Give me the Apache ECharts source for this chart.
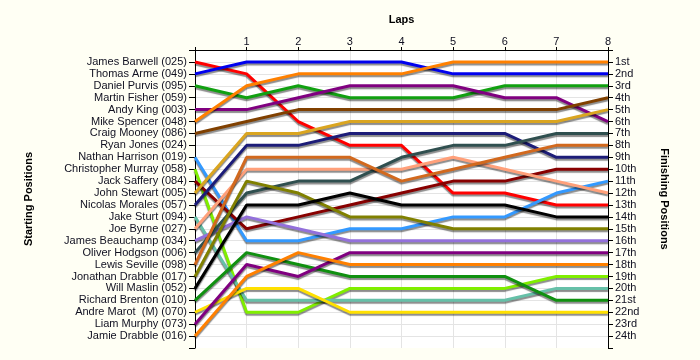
<!DOCTYPE html>
<html>
<head>
<meta charset="utf-8">
<script src="https://cdn.jsdelivr.net/npm/echarts@6/dist/echarts.min.js"></script>
<style>
html,body{margin:0;padding:0;background:#fffff4;}
#chart{width:700px;height:360px;}
</style>
</head>
<body>
<div id="chart"></div>
<script>
// Laps (x axis) and labels
const laps = [0, 1, 2, 3, 4, 5, 6, 7, 8];
const lapLabels = ['', '1', '2', '3', '4', '5', '6', '7', '8'];

// Starting grid names (left axis tick labels, positions 1..24)
const startingNames = [
  'James Barwell (025)', 'Thomas Arme (049)', 'Daniel Purvis (095)', 'Martin Fisher (059)',
  'Andy King (003)', 'Mike Spencer (048)', 'Craig Mooney (086)', 'Ryan Jones (024)',
  'Nathan Harrison (019)', 'Christopher Murray (058)', 'Jack Saffery (084)', 'John Stewart (005)',
  'Nicolas Morales (057)', 'Jake Sturt (094)', 'Joe Byrne (027)', 'James Beauchamp (034)',
  'Oliver Hodgson (006)', 'Lewis Seville (098)', 'Jonathan Drabble (017)', 'Will Maslin (052)',
  'Richard Brenton (010)', 'Andre Marot  (M) (070)', 'Liam Murphy (073)', 'Jamie Drabble (016)'
];

// Finishing positions (right axis tick labels)
const finishingLabels = [
  '1st', '2nd', '3rd', '4th', '5th', '6th', '7th', '8th', '9th', '10th', '11th', '12th',
  '13th', '14th', '15th', '16th', '17th', '18th', '19th', '20th', '21st', '22nd', '23rd', '24th'
];

// Position per lap (lap 0..8) for each driver
const posBarwell   = [1, 2, 6, 8, 8, 12, 12, 13, 13];
const posArme      = [2, 1, 1, 1, 1, 2, 2, 2, 2];
const posPurvis    = [3, 4, 3, 4, 4, 4, 3, 3, 3];
const posKing      = [5, 5, 4, 3, 3, 3, 4, 4, 6];
const posSpencer   = [6, 3, 2, 2, 2, 1, 1, 1, 1];
const posMooney    = [7, 6, 5, 5, 5, 5, 5, 5, 4];
const posHarrison  = [9, 16, 16, 15, 15, 14, 14, 12, 11];
const posMurray    = [10, 22, 22, 20, 20, 20, 20, 19, 19];
const posSaffery   = [11, 15, 14, 13, 12, 11, 11, 10, 10];
const posStewart   = [12, 7, 7, 6, 6, 6, 6, 6, 5];
const posMorales   = [13, 8, 8, 7, 7, 7, 7, 9, 9];
const posSturt     = [14, 21, 21, 21, 21, 21, 21, 20, 20];
const posByrne     = [15, 10, 10, 10, 10, 9, 10, 11, 12];
const posBeauchamp = [16, 14, 15, 16, 16, 16, 16, 16, 16];
const posHodgson   = [17, 12, 11, 11, 9, 8, 8, 7, 7];
const posSeville   = [18, 9, 9, 9, 11, 10, 9, 8, 8];
const posJDrabble  = [19, 11, 12, 14, 14, 15, 15, 15, 15];
const posMaslin    = [20, 13, 13, 12, 13, 13, 13, 14, 14];
const posBrenton   = [21, 17, 18, 19, 19, 19, 19, 21, 21];
const posMarot     = [22, 20, 20, 22, 22, 22, 22, 22, 22];
const posMurphy    = [23, 18, 19, 17, 17, 17, 17, 17, 17];
const posJamieDrabble = [24, 19, 17, 18, 18, 18, 18, 18, 18];

const driverNames = [
  'James Barwell', 'Thomas Arme', 'Daniel Purvis', 'Andy King', 'Mike Spencer', 'Craig Mooney',
  'Nathan Harrison', 'Christopher Murray', 'Jack Saffery', 'John Stewart', 'Nicolas Morales',
  'Jake Sturt', 'Joe Byrne', 'James Beauchamp', 'Oliver Hodgson', 'Lewis Seville',
  'Jonathan Drabble', 'Will Maslin', 'Richard Brenton', 'Andre Marot', 'Liam Murphy', 'Jamie Drabble'
];
const driverPositions = [
  posBarwell, posArme, posPurvis, posKing, posSpencer, posMooney, posHarrison, posMurray,
  posSaffery, posStewart, posMorales, posSturt, posByrne, posBeauchamp, posHodgson, posSeville,
  posJDrabble, posMaslin, posBrenton, posMarot, posMurphy, posJamieDrabble
];

// Styles
const lineColors = [
  '#ff0000', '#0000ee', '#11a011', '#800080', '#ff8000', '#804000',
  '#3399ff', '#80ee00', '#880000', '#daa520', '#1c1c78',
  '#66c0a8', '#ffa07a', '#9370db', '#2f4f4f', '#d2691e',
  '#808000', '#000000', '#109010', '#ffe000', '#800080', '#ff8000'
];

const FONT = '"Liberation Sans", Arial, sans-serif';
const TEXT = '#101020';

const chart = echarts.init(document.getElementById('chart'), null, {renderer: 'canvas'});

const series = driverNames.map((name, i) => ({
  type: 'line',
  name: name,
  data: laps.map((l, j) => [l, driverPositions[i][j]]),
  symbol: 'none',
  showSymbol: false,
  silent: true,
  lineStyle: {
    color: lineColors[i],
    width: 3,
    shadowColor: 'rgba(0,0,0,0.45)',
    shadowBlur: 1,
    shadowOffsetY: 2,
    shadowOffsetX: 0
  },
  itemStyle: {color: lineColors[i]},
  z: 3
}));

chart.setOption({
  backgroundColor: '#fffff4',
  animation: false,
  grid: {
    left: 195, right: 92, top: 50, bottom: 12,
    show: true, backgroundColor: '#ffffff', borderWidth: 0
  },
  xAxis: {
    type: 'value',
    position: 'top',
    min: 0, max: 8, interval: 1,
    name: 'Laps',
    nameLocation: 'middle',
    nameGap: 25,
    nameTextStyle: {fontFamily: FONT, fontSize: 11, fontWeight: 'bold', color: '#000'},
    axisLine: {show: true, onZero: false, lineStyle: {color: '#000', width: 1}},
    axisTick: {show: true, length: 3, lineStyle: {color: '#000'}},
    axisLabel: {
      margin: 3, fontFamily: FONT, fontSize: 11, color: TEXT,
      formatter: v => lapLabels[v] || ''
    },
    splitLine: {show: true, lineStyle: {color: '#e4e4e4', width: 1}}
  },
  yAxis: [
    {
      type: 'value',
      position: 'left',
      inverse: true,
      min: 0, max: 25, interval: 1,
      name: 'Starting Positions',
      nameLocation: 'middle',
      nameRotate: 90,
      nameGap: 161,
      nameTextStyle: {fontFamily: FONT, fontSize: 11, fontWeight: 'bold', color: '#000'},
      axisLine: {show: true, onZero: false, lineStyle: {color: '#000', width: 1}},
      axisTick: {show: true, length: 6, lineStyle: {color: '#000'}},
      axisLabel: {
        margin: 8, fontFamily: FONT, fontSize: 11, color: TEXT,
        formatter: v => startingNames[v - 1] || ''
      },
      splitLine: {show: true, showMaxLine: false, lineStyle: {color: '#e4e4e4', width: 1}}
    },
    {
      type: 'value',
      position: 'right',
      inverse: true,
      min: 0, max: 25, interval: 1,
      name: 'Finishing Positions',
      nameLocation: 'middle',
      nameRotate: -90,
      nameGap: 51,
      nameTextStyle: {fontFamily: FONT, fontSize: 11, fontWeight: 'bold', color: '#000'},
      axisLine: {show: true, onZero: false, lineStyle: {color: '#000', width: 1}},
      axisTick: {show: true, length: 5, lineStyle: {color: '#000'}},
      axisLabel: {
        margin: 7, fontFamily: FONT, fontSize: 11, color: TEXT,
        formatter: v => finishingLabels[v - 1] || ''
      },
      splitLine: {show: false}
    }
  ],
  series: series
});
</script>
</body>
</html>
